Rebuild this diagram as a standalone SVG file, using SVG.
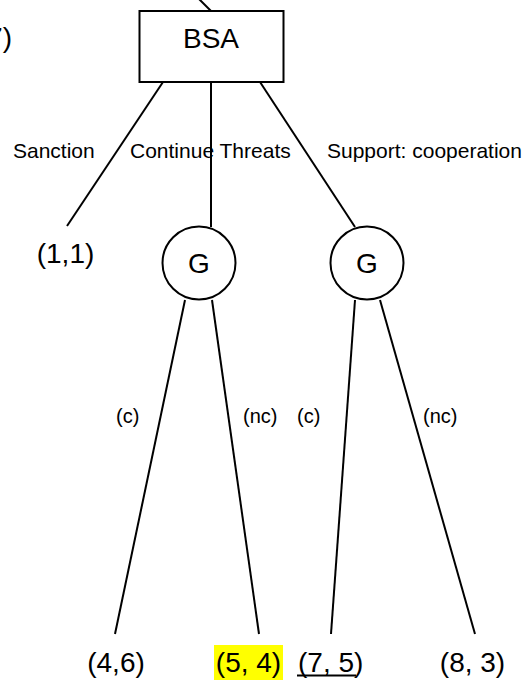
<svg xmlns="http://www.w3.org/2000/svg" width="529" height="680" viewBox="0 0 529 680">
<style>
  text { font-family: "Liberation Sans", Arial, sans-serif; fill: #000; }
  .big { font-size: 28px; }
  .lbl { font-size: 21px; }
  .sm { font-size: 20px; }
  .node { fill: #fff; stroke: #000; stroke-width: 2; }
  .edge { stroke: #000; stroke-width: 2; fill: none; }
</style>
<rect width="529" height="680" fill="#fff"/>
<g id="connectors">
  <line class="edge" x1="194" y1="-6" x2="211" y2="11"/>
  <line class="edge" x1="163" y1="82" x2="67" y2="226"/>
  <line class="edge" x1="211" y1="82" x2="211" y2="227"/>
  <line class="edge" x1="260" y1="82" x2="355" y2="227"/>
  <line class="edge" x1="185" y1="300" x2="115" y2="634"/>
  <line class="edge" x1="212" y1="300" x2="259" y2="634"/>
  <line class="edge" x1="355" y1="300" x2="331" y2="634"/>
  <line class="edge" x1="380" y1="300" x2="475" y2="634"/>
</g>
<g id="edge-labels">
  <text class="lbl" x="13" y="158">Sanction</text>
  <text class="lbl" x="130" y="158">Continue Threats</text>
  <text class="lbl" x="327" y="158">Support: cooperation</text>
  <text class="sm" x="116" y="423">(c)</text>
  <text class="sm" x="243" y="423">(nc)</text>
  <text class="sm" x="297" y="423">(c)</text>
  <text class="sm" x="423" y="423">(nc)</text>
</g>
<g id="prev-payoff">
  <text class="big" x="12" y="47" text-anchor="end">7)</text>
</g>
<g id="bsa">
  <rect class="node" x="139.5" y="11" width="144" height="71"/>
  <text class="big" x="211" y="48" text-anchor="middle">BSA</text>
</g>
<g id="g1">
  <circle class="node" cx="199" cy="263" r="36.5"/>
  <text class="big" x="199" y="273" text-anchor="middle">G</text>
</g>
<g id="g2">
  <circle class="node" cx="367" cy="263" r="36.5"/>
  <text class="big" x="367" y="273" text-anchor="middle">G</text>
</g>
<g id="leaf-sanction">
  <text class="big" x="65.5" y="263" text-anchor="middle">(1,1)</text>
</g>
<g id="leaf-4-6">
  <text class="big" x="116" y="672" text-anchor="middle">(4,6)</text>
</g>
<g id="leaf-5-4">
  <rect x="214" y="645" width="69" height="35" fill="#ffff00"/>
  <text class="big" x="248.5" y="672" text-anchor="middle">(5, 4)</text>
</g>
<g id="leaf-7-5">
  <text class="big" x="298" y="672">(7, 5)</text>
  <line x1="297" y1="675.5" x2="356" y2="675.5" stroke="#000" stroke-width="2"/>
</g>
<g id="leaf-8-3">
  <text class="big" x="472.5" y="672" text-anchor="middle">(8, 3)</text>
</g>
</svg>
